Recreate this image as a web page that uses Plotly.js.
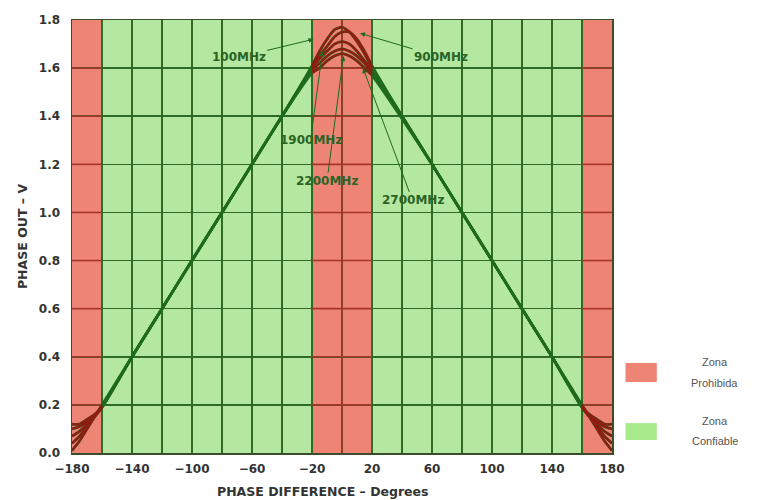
<!DOCTYPE html>
<html>
<head>
<meta charset="utf-8">
<script src="https://cdn.plot.ly/plotly-3.0.1.min.js"></script>
<style>
  html, body { margin: 0; padding: 0; background: #ffffff; }
  #chart { width: 769px; height: 500px; }
</style>
</head>
<body>
<div id="chart"></div>
<script>
// Phase difference sample points (degrees)
const phaseDeg = [-180, -175, -170, -165, -160, -140, -120, -100, -80, -60, -40, -20,
  -15, -10, -5, 0, 5, 10, 15, 20, 40, 60, 80, 100, 120, 140, 160, 165, 170, 175, 180];

// Phase output (V) per input frequency
const out100MHz = [0.01, 0.05, 0.10, 0.15, 0.20, 0.40, 0.60, 0.80, 1.00, 1.20, 1.40, 1.61,
  1.67, 1.72, 1.76, 1.77, 1.75, 1.71, 1.66, 1.60, 1.40, 1.20, 1.00, 0.80, 0.60, 0.40, 0.20, 0.15, 0.10, 0.05, 0.01];
const out900MHz = [0.04, 0.07, 0.11, 0.15, 0.19, 0.40, 0.60, 0.80, 1.00, 1.20, 1.40, 1.60,
  1.65, 1.69, 1.73, 1.75, 1.75, 1.72, 1.67, 1.61, 1.40, 1.20, 1.00, 0.80, 0.60, 0.40, 0.19, 0.15, 0.11, 0.07, 0.04];
const out1900MHz = [0.07, 0.09, 0.12, 0.15, 0.19, 0.40, 0.60, 0.80, 1.00, 1.20, 1.40, 1.60,
  1.64, 1.67, 1.70, 1.71, 1.70, 1.67, 1.63, 1.59, 1.40, 1.20, 1.00, 0.80, 0.60, 0.40, 0.19, 0.15, 0.12, 0.09, 0.07];
const out2200MHz = [0.10, 0.11, 0.13, 0.16, 0.19, 0.40, 0.60, 0.80, 1.00, 1.20, 1.40, 1.59,
  1.62, 1.65, 1.67, 1.68, 1.67, 1.65, 1.62, 1.58, 1.40, 1.20, 1.00, 0.80, 0.60, 0.40, 0.19, 0.16, 0.13, 0.11, 0.10];
const out2700MHz = [0.12, 0.12, 0.14, 0.16, 0.19, 0.40, 0.60, 0.80, 1.00, 1.20, 1.40, 1.58,
  1.60, 1.63, 1.65, 1.66, 1.65, 1.63, 1.60, 1.57, 1.39, 1.20, 1.00, 0.80, 0.60, 0.40, 0.19, 0.16, 0.14, 0.12, 0.12];

const seriesNames = ['100MHz', '900MHz', '1900MHz', '2200MHz', '2700MHz'];
const seriesValues = [out100MHz, out900MHz, out1900MHz, out2200MHz, out2700MHz];

// Forbidden (red) and reliable (green) zones
const forbiddenZones = [[-180, -160], [-20, 20], [160, 180]];
const zoneLabels = [['Zona', 'Prohibida'], ['Zona', 'Confiable']];

// Axis ticks
const xTickVals = [-180, -140, -100, -60, -20, 20, 60, 100, 140, 180];
const xGridVals = [-180, -160, -140, -120, -100, -80, -60, -40, -20, 0, 20, 40, 60, 80, 100, 120, 140, 160, 180];
const yTickVals = [0.0, 0.2, 0.4, 0.6, 0.8, 1.0, 1.2, 1.4, 1.6, 1.8];

// Frequency callouts: arrow tip (x, y) and label position (ax, ay)
const callouts = [
  { text: '100MHz', x: -19, y: 1.72, ax: -69, ay: 1.645 },
  { text: '900MHz', x: 12, y: 1.745, ax: 66, ay: 1.645 },
  { text: '1900MHz', x: -13, y: 1.67, ax: -21, ay: 1.30 },
  { text: '2200MHz', x: 1, y: 1.65, ax: -10, ay: 1.13 },
  { text: '2700MHz', x: 14, y: 1.60, ax: 47, ay: 1.05 }
];

const GREEN_BG = '#b4e7a0';
const RED_BG = '#ee8474';
const LINE_GREEN = '#1f6a1c';
const LINE_RED = '#8f1d14';
const GRID_GREEN = '#2f6a26';
const GRID_RED = '#a5352a';
const FONT = 'DejaVu Sans, Arial, sans-serif';
const KEY_FONT = 'Liberation Sans, Arial, sans-serif';

const inZone = x => forbiddenZones.some(z => x >= z[0] && x <= z[1]);

const traces = [];
seriesNames.forEach((name, i) => {
  traces.push({
    type: 'scatter', mode: 'lines', name: name,
    x: phaseDeg, y: seriesValues[i],
    line: { color: LINE_GREEN, width: 2.7, shape: 'spline', smoothing: 0.6 },
    hoverinfo: 'x+y+name', showlegend: false
  });
});
// Same curves re-coloured where they cross the forbidden zones
seriesNames.forEach((name, i) => {
  traces.push({
    type: 'scatter', mode: 'lines', name: name,
    x: phaseDeg, y: seriesValues[i].map((v, k) => inZone(phaseDeg[k]) ? v : null),
    line: { color: LINE_RED, width: 2.2, shape: 'spline', smoothing: 0.6 },
    connectgaps: false, hoverinfo: 'skip', showlegend: false
  });
});

const shapes = [];
forbiddenZones.forEach(z => {
  shapes.push({ type: 'rect', xref: 'x', yref: 'y', x0: z[0], x1: z[1], y0: 0, y1: 1.8,
    fillcolor: RED_BG, line: { width: 0 }, layer: 'below' });
  // grid segments inside the zone, drawn in the zone's darker tone
  yTickVals.slice(1, -1).forEach(yv => {
    shapes.push({ type: 'line', xref: 'x', yref: 'y', x0: z[0], x1: z[1], y0: yv, y1: yv,
      line: { color: GRID_RED, width: 1.6 }, layer: 'between' });
  });
  xGridVals.filter(xv => xv > z[0] && xv < z[1]).forEach(xv => {
    shapes.push({ type: 'line', xref: 'x', yref: 'y', x0: xv, x1: xv, y0: 0, y1: 1.8,
      line: { color: GRID_RED, width: 1.6 }, layer: 'between' });
  });
});

// Zone key on the right: swatch boxes and two-line labels
const keyColors = [RED_BG, '#a6ea8c'];
const keyBoxes = [[0.164, 0.208], [0.030, 0.069]];
const keyTextY = [[0.210, 0.162], [0.074, 0.027]];
keyColors.forEach((c, i) => {
  shapes.push({ type: 'rect', xref: 'paper', yref: 'paper',
    x0: 1.025, x1: 1.083, y0: keyBoxes[i][0], y1: keyBoxes[i][1],
    fillcolor: c, line: { width: 0 } });
});

const annotations = callouts.map(c => ({
  text: c.text, x: c.x, y: c.y, ax: c.ax, ay: c.ay, axref: 'x', ayref: 'y',
  xref: 'x', yref: 'y', showarrow: true, arrowhead: 2, arrowsize: 1, arrowwidth: 1,
  arrowcolor: LINE_GREEN, standoff: 0, startstandoff: 0,
  font: { family: FONT, size: 12, color: '#2a6424', weight: 'bold' },
  bgcolor: 'rgba(0,0,0,0)'
}));
zoneLabels.forEach((lines, i) => {
  lines.forEach((t, j) => {
    annotations.push({ text: t, xref: 'paper', yref: 'paper', x: 1.19, y: keyTextY[i][j],
      showarrow: false, xanchor: 'center', yanchor: 'middle',
      font: { family: KEY_FONT, size: 11, color: '#555555' } });
  });
});
// Horizontal axis title
annotations.push({ text: 'PHASE DIFFERENCE \u2013 Degrees', xref: 'paper', yref: 'paper',
  x: 0.465, y: -0.088, xanchor: 'center', yanchor: 'middle', showarrow: false,
  font: { family: FONT, size: 12.5, color: '#333333', weight: 'bold' } });

const layout = {
  width: 769, height: 500,
  margin: { l: 72, r: 157, t: 20, b: 47 },
  paper_bgcolor: '#ffffff',
  plot_bgcolor: GREEN_BG,
  showlegend: false,
  font: { family: FONT, color: '#333333' },
  xaxis: {
    range: [-180, 180], tickmode: 'array', tickvals: xTickVals,
    ticktext: xTickVals.map(v => v < 0 ? '\u2212' + Math.abs(v) : String(v)),
    showgrid: true, gridcolor: GRID_GREEN, gridwidth: 1.6,
    minor: { tickmode: 'array', tickvals: xGridVals, showgrid: true, gridcolor: GRID_GREEN, gridwidth: 1.6, ticks: '' },
    showline: true, linecolor: '#3c4d2c', linewidth: 1.5, mirror: true,
    ticks: '', zeroline: false, ticklabelstandoff: 4,
    tickfont: { size: 12, color: '#333333', weight: 'bold' }
  },
  yaxis: {
    range: [0, 1.8], tickmode: 'array', tickvals: yTickVals,
    ticktext: yTickVals.map(v => v.toFixed(1)),
    showgrid: true, gridcolor: GRID_GREEN, gridwidth: 1.6,
    showline: true, linecolor: '#3c4d2c', linewidth: 1.5, mirror: true,
    ticks: '', zeroline: false, ticklabelstandoff: 8,
    tickfont: { size: 12, color: '#333333', weight: 'bold' },
    title: { text: 'PHASE OUT \u2013 V', standoff: 8,
      font: { size: 12.5, color: '#333333', weight: 'bold' } }
  },
  shapes: shapes,
  annotations: annotations
};

Plotly.newPlot('chart', traces, layout, { displayModeBar: false, staticPlot: true });
</script>
</body>
</html>
